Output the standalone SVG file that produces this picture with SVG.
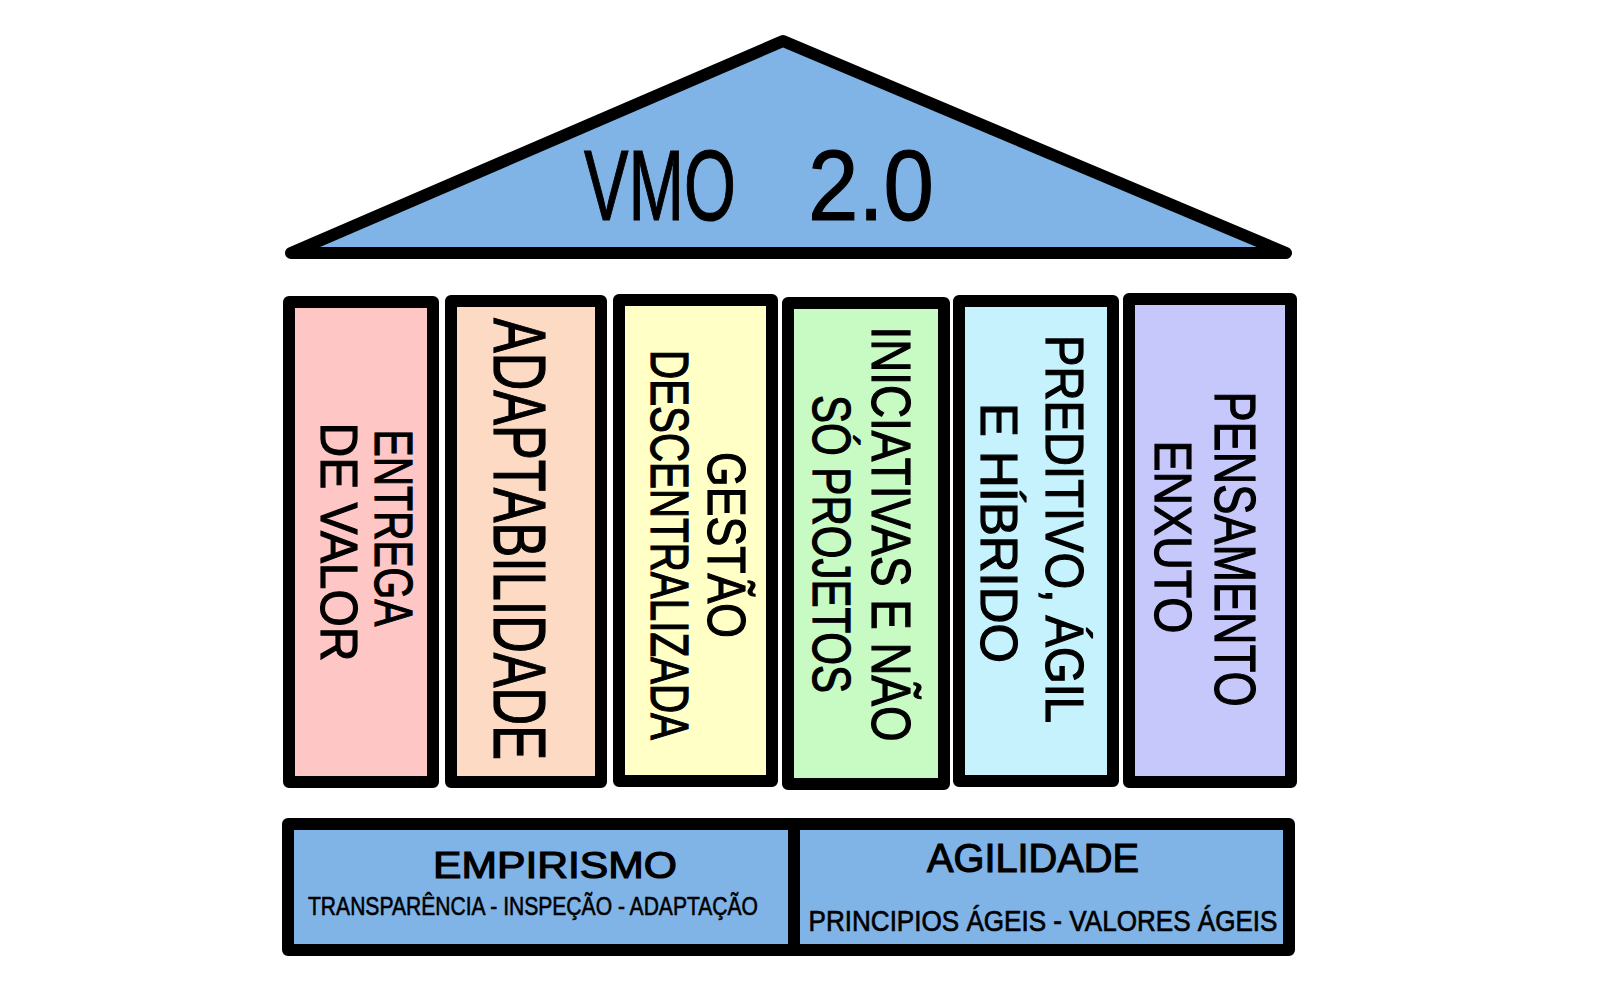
<svg xmlns="http://www.w3.org/2000/svg" width="1600" height="1000" viewBox="0 0 1600 1000">
<style>
.box{stroke:#000;stroke-width:12;stroke-linejoin:round}
.t{font-family:"Liberation Sans","DejaVu Sans",Arial,sans-serif;fill:#000;stroke:#000;stroke-width:1.2;text-anchor:middle}
.blue{fill:#80B3E6}
</style>
<rect x="0" y="0" width="1600" height="1000" fill="#fff"/>
<g id="roof">
<polygon class="box blue" points="291,253 783,41 1286,253"/>
<text class="t" y="220" font-size="100" style="text-anchor:start"><tspan x="584" textLength="152" lengthAdjust="spacingAndGlyphs">VMO</tspan><tspan x="808" textLength="126" lengthAdjust="spacingAndGlyphs">2.0</tspan></text>
</g>
<g id="pillar-1">
<rect class="box" x="289" y="302" width="144" height="480" fill="#FFC6C6"/>
<text class="t" font-size="54" transform="translate(375,528) rotate(90)" textLength="197" lengthAdjust="spacingAndGlyphs">ENTREGA</text>
<text class="t" font-size="52" transform="translate(321,542) rotate(90)" textLength="239" lengthAdjust="spacingAndGlyphs">DE VALOR</text>
</g>
<g id="pillar-2">
<rect class="box" x="451" y="301" width="150" height="481" fill="#FDDAC3"/>
<text class="t" font-size="74" transform="translate(494,539) rotate(90)" textLength="442" lengthAdjust="spacingAndGlyphs">ADAPTABILIDADE</text>
</g>
<g id="pillar-3">
<rect class="box" x="619" y="300" width="153" height="481" fill="#FFFFC6"/>
<text class="t" font-size="54" transform="translate(708,545) rotate(90)" textLength="186" lengthAdjust="spacingAndGlyphs">GESTÃO</text>
<text class="t" font-size="54" transform="translate(651,545) rotate(90)" textLength="390" lengthAdjust="spacingAndGlyphs">DESCENTRALIZADA</text>
</g>
<g id="pillar-4">
<rect class="box" x="788" y="303" width="156" height="481" fill="#C8FAC4"/>
<text class="t" font-size="56" transform="translate(872,534) rotate(90)" textLength="415" lengthAdjust="spacingAndGlyphs">INICIATIVAS E NÃO</text>
<text class="t" font-size="54" transform="translate(813,544) rotate(90)" textLength="298" lengthAdjust="spacingAndGlyphs">SÓ PROJETOS</text>
</g>
<g id="pillar-5">
<rect class="box" x="959" y="301" width="154" height="480" fill="#C6F2FE"/>
<text class="t" font-size="54" transform="translate(1046,529) rotate(90)" textLength="388" lengthAdjust="spacingAndGlyphs">PREDITIVO, ÁGIL</text>
<text class="t" font-size="52" transform="translate(981,533) rotate(90)" textLength="260" lengthAdjust="spacingAndGlyphs">E HÍBRIDO</text>
</g>
<g id="pillar-6">
<rect class="box" x="1129" y="299" width="162" height="483" fill="#C6C8FC"/>
<text class="t" font-size="58" transform="translate(1215,549) rotate(90)" textLength="315" lengthAdjust="spacingAndGlyphs">PENSAMENTO</text>
<text class="t" font-size="52" transform="translate(1155,537) rotate(90)" textLength="193" lengthAdjust="spacingAndGlyphs">ENXUTO</text>
</g>
<g id="base-empirismo">
<rect class="box blue" x="288" y="824" width="506" height="126"/>
<text class="t" x="555" y="878" font-size="37" textLength="244" lengthAdjust="spacingAndGlyphs">EMPIRISMO</text>
<text class="t" x="533" y="915" font-size="26" textLength="450" lengthAdjust="spacingAndGlyphs" style="stroke-width:0.6">TRANSPARÊNCIA - INSPEÇÃO - ADAPTAÇÃO</text>
</g>
<g id="base-agilidade">
<rect class="box blue" x="794" y="824" width="495" height="126"/>
<text class="t" x="1033" y="872" font-size="41" textLength="212" lengthAdjust="spacingAndGlyphs">AGILIDADE</text>
<text class="t" x="1043" y="931" font-size="30" textLength="469" lengthAdjust="spacingAndGlyphs" style="stroke-width:0.7">PRINCIPIOS ÁGEIS - VALORES ÁGEIS</text>
</g>
</svg>
